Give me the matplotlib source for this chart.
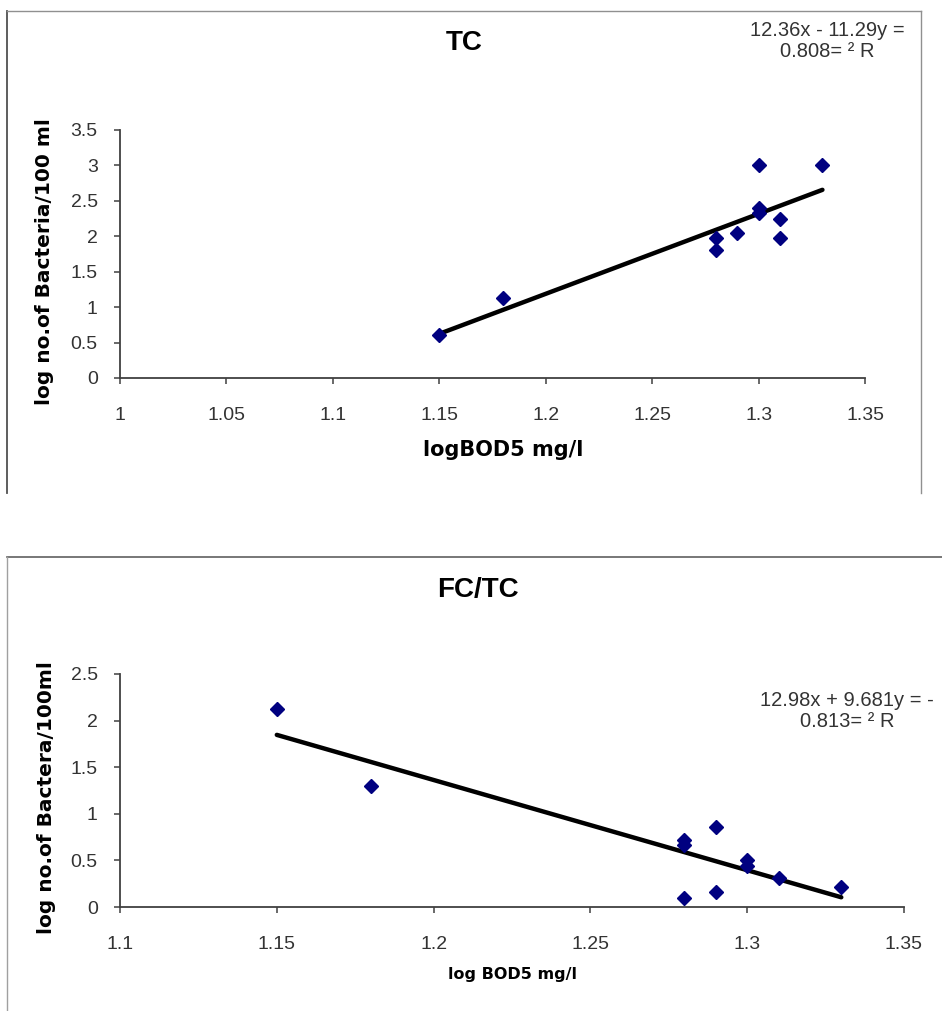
import matplotlib
matplotlib.use('Agg')
import matplotlib.pyplot as plt
from matplotlib.lines import Line2D
import numpy as np

#-------------------------------------------------------------------------------
# data
#-------------------------------------------------------------------------------

tc_x = [1.15, 1.18, 1.28, 1.28, 1.29, 1.30, 1.30, 1.30, 1.31, 1.31, 1.33]
tc_y = [0.60, 1.13, 1.97, 1.80, 2.05, 3.00, 2.40, 2.33, 2.25, 1.97, 3.00]
tc_slope, tc_icpt = 11.29, -12.36
tc_eq = '12.36x - 11.29y =\n0.808= ² R'

fc_x = [1.15, 1.18, 1.28, 1.28, 1.28, 1.29, 1.29, 1.30, 1.30, 1.31, 1.33]
fc_y = [2.12, 1.30, 0.72, 0.67, 0.10, 0.86, 0.16, 0.50, 0.44, 0.31, 0.21]
fc_slope, fc_icpt = -9.681, 12.98
fc_eq = '12.98x + 9.681y = -\n0.813= ² R'

tc_xticks = [1, 1.05, 1.1, 1.15, 1.2, 1.25, 1.3, 1.35]
tc_xlabels = ['1', '1.05', '1.1', '1.15', '1.2', '1.25', '1.3', '1.35']
tc_yticks = [0, 0.5, 1, 1.5, 2, 2.5, 3, 3.5]
tc_ylabels = ['0', '0.5', '1', '1.5', '2', '2.5', '3', '3.5']

fc_xticks = [1.1, 1.15, 1.2, 1.25, 1.3, 1.35]
fc_xlabels = ['1.1', '1.15', '1.2', '1.25', '1.3', '1.35']
fc_yticks = [0, 0.5, 1, 1.5, 2, 2.5]
fc_ylabels = ['0', '0.5', '1', '1.5', '2', '2.5']

#-------------------------------------------------------------------------------
# helpers
#-------------------------------------------------------------------------------

W, H = 942, 1011
AXCOL = '#404040'
MARKCOL = '#000080'


def fx(px):
    return px / W


def fy(py):
    return 1 - py / H


def frame_line(fig, xs, ys, color='#909090', lw=1.0):
    fig.add_artist(Line2D([fx(v) for v in xs], [fy(v) for v in ys],
                          transform=fig.transFigure, color=color, lw=lw))


def panel(ax, x, y, slope, icpt, xticks, xlabels, yticks, ylabels, xlabel, xlsize, ylabel, xlpos, ylpos):
    ax.plot(x, y, linestyle='none', marker='D', markersize=7.5,
            color=MARKCOL, markeredgecolor=MARKCOL, zorder=3)
    xl = np.array([min(x), max(x)])
    ax.plot(xl, slope * xl + icpt, color='black', lw=3.2,
            solid_capstyle='round', zorder=2)
    ax.set_xlim(xticks[0], xticks[-1])
    ax.set_ylim(yticks[0], yticks[-1])
    ax.set_xticks(xticks)
    ax.set_xticklabels(xlabels)
    ax.set_yticks(yticks)
    ax.set_yticklabels(ylabels)
    for s in ('top', 'right'):
        ax.spines[s].set_visible(False)
    for s in ('left', 'bottom'):
        ax.spines[s].set_color(AXCOL)
        ax.spines[s].set_linewidth(1.3)
    ax.tick_params(axis='both', direction='out', length=4, width=1.1,
                   colors=AXCOL, labelsize=14)
    ax.tick_params(axis='x', pad=17)
    ax.tick_params(axis='y', pad=12)
    for lab in ax.get_xticklabels() + ax.get_yticklabels():
        lab.set_fontfamily('Liberation Sans')
        lab.set_color('#333333')
    ax.set_xlabel(xlabel, fontsize=xlsize, fontweight='bold',
                  fontfamily='DejaVu Sans', va='center')
    ax.xaxis.set_label_coords(*xlpos)
    ax.set_ylabel(ylabel, fontsize=14.5, fontweight='bold',
                  fontfamily='DejaVu Sans', va='center')
    ax.yaxis.set_label_coords(*ylpos)


#-------------------------------------------------------------------------------
# figure
#-------------------------------------------------------------------------------

fig = plt.figure(figsize=(W / 100, H / 100), dpi=100)
fig.patch.set_facecolor('white')

# panel frames
frame_line(fig, [7, 7], [11, 493], color='#505050', lw=1.3)
frame_line(fig, [7, 921], [11, 11])
frame_line(fig, [921, 921], [11, 493])
frame_line(fig, [7, 942], [557, 557], color='#606060', lw=1.2)
frame_line(fig, [7, 7], [557, 1011], color='#a0a0a0', lw=1.0)

ax1 = fig.add_axes([fx(120), fy(378), fx(865) - fx(120), fy(130) - fy(378)])
panel(ax1, tc_x, tc_y, tc_slope, tc_icpt, tc_xticks, tc_xlabels, tc_yticks, tc_ylabels,
      'logBOD5 mg/l', 15, 'log no.of Bacteria/100 ml',
      ((503 - 120) / 745, (378 - 450) / 248), ((45 - 120) / 745, (378 - 262) / 248))

ax2 = fig.add_axes([fx(120), fy(907), fx(904) - fx(120), fy(674) - fy(907)])
panel(ax2, fc_x, fc_y, fc_slope, fc_icpt, fc_xticks, fc_xlabels, fc_yticks, fc_ylabels,
      'log BOD5 mg/l', 11.5, 'log no.of Bactera/100ml',
      ((512 - 120) / 784, (907 - 974) / 233), ((47 - 120) / 784, (907 - 798) / 233))

# titles
fig.text(fx(464), fy(43), 'TC', ha='center', va='center', fontsize=20,
         fontweight='bold', fontfamily='Liberation Sans')
fig.text(fx(478), fy(590), 'FC/TC', ha='center', va='center', fontsize=20,
         fontweight='bold', fontfamily='Liberation Sans')

# trendline equations
fig.text(fx(827), fy(41), tc_eq, ha='center', va='center', multialignment='center',
         fontsize=14.5, color='#333333', fontfamily='Liberation Sans', linespacing=1.1)
fig.text(fx(847), fy(711), fc_eq, ha='center', va='center', multialignment='center',
         fontsize=14.5, color='#333333', fontfamily='Liberation Sans', linespacing=1.1)

fig.savefig('out.png', dpi=100, facecolor='white')
